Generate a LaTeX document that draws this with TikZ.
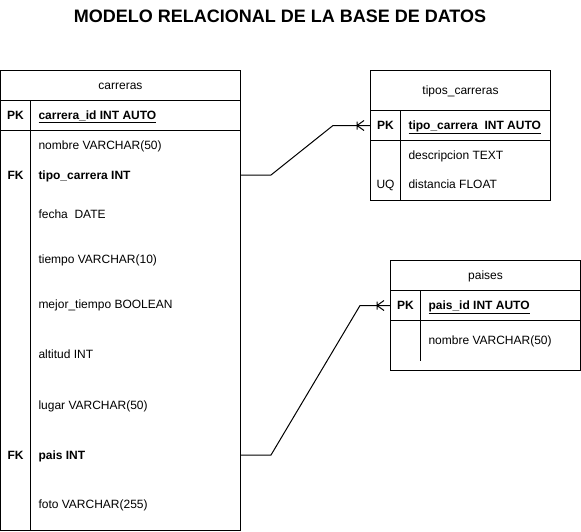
\documentclass[tikz,border=0pt]{standalone}
\usepackage{fontspec}
\setmainfont{Liberation Sans}
\usetikzlibrary{positioning,calc}

\begin{document}
\begin{tikzpicture}[x=1pt, y=-1pt, line width=1pt,
    tabla/.style={draw, inner sep=0pt},
    texto/.style={inner sep=0pt, text height=8.6pt, text depth=0pt, font=\fontsize{12}{14}\selectfont},
    campo/.style={texto, anchor=west},
    clave/.style={texto, font=\fontsize{12}{14}\selectfont\bfseries},
    patagallo/.pic={\draw (-13,-4) -- (-13,4) (-6,-5) -- (-13,0) -- (-6,5);}
  ]
  \useasboundingbox (0,0) rectangle (581,531);
  \node[font=\fontsize{18}{21}\selectfont\bfseries] (titulo) at (280,16) {MODELO RELACIONAL DE LA BASE DE DATOS};

  % carreras
  \node[tabla, minimum width=240, minimum height=460] (carreras) at (120.5,300.5) {};
  \node[tabla, minimum width=240, minimum height=30] (carreras-pk) at (120.5,115.5) {};
  \draw ([xshift=30]carreras-pk.north west) -- ([xshift=30]carreras.south west);
  \node[texto] (carreras-titulo) at (120.5,85.5) {carreras};
  \node[clave] (carreras-k0) at (15.5,115.5) {PK};
  \node[campo] (carreras-c0) at (38,115.5) {\underline{\textbf{carrera\_id INT AUTO}}};
  \foreach \y/\t [count=\i] in {145/nombre VARCHAR(50), 175/\textbf{tipo\_carrera INT}, 214/fecha\ \ DATE,
      259/tiempo VARCHAR(10), 304/mejor\_tiempo BOOLEAN, 354/altitud INT, 405/lugar VARCHAR(50),
      455/\textbf{pais INT}, 504/foto VARCHAR(255)}
    \node[campo] (carreras-c\i) at (38,\y) {\t};
  \node[clave] (carreras-k2) at (15.5,175) {FK};
  \node[clave] (carreras-k8) at (15.5,455) {FK};

  % tipos_carreras
  \node[tabla, minimum width=180, minimum height=130] (tipos) at (460.5,135.5) {};
  \node[tabla, minimum width=180, minimum height=30] (tipos-pk) at (460.5,125.5) {};
  \draw ([xshift=30]tipos-pk.north west) -- ([xshift=30]tipos.south west);
  \node[texto] (tipos-titulo) at (460.5,90.5) {tipos\_carreras};
  \node[clave] (tipos-k0) at (385.5,125.5) {PK};
  \node[campo] (tipos-c0) at (408,125.5) {\underline{\textbf{tipo\_carrera\ \ INT AUTO}}};
  \node[campo] (tipos-c1) at (408,155) {descripcion TEXT};
  \node[campo] (tipos-c2) at (408,184.5) {distancia FLOAT};
  \node[texto] (tipos-k2) at (385.5,184.5) {UQ};

  % paises
  \node[tabla, minimum width=190, minimum height=110] (paises) at (485.5,315.5) {};
  \node[tabla, minimum width=190, minimum height=30] (paises-pk) at (485.5,305.5) {};
  \draw ([xshift=30]paises-pk.north west) -- ([xshift=30,yshift=10]paises.south west);
  \node[texto] (paises-titulo) at (485.5,275.5) {paises};
  \node[clave] (paises-k0) at (405.5,305.5) {PK};
  \node[campo] (paises-c0) at (428,305.5) {\underline{\textbf{pais\_id INT AUTO}}};
  \node[campo] (paises-c1) at (428,340) {nombre VARCHAR(50)};

  \draw (carreras.east |- carreras-c2) -- ++(30,0) -- ($(tipos-pk.west)+(-37,0)$) -- (tipos-pk.west);
  \pic at (tipos-pk.west) {patagallo};
  \draw (carreras.east |- carreras-c8) -- ++(30,0) -- ($(paises-pk.west)+(-30,0)$) -- (paises-pk.west);
  \pic at (paises-pk.west) {patagallo};
\end{tikzpicture}
\end{document}
